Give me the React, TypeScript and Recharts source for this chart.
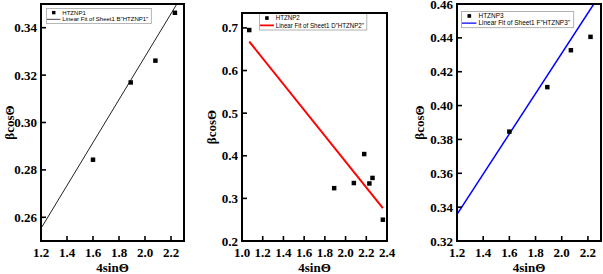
import { ComposedChart, Line, Scatter, XAxis, YAxis, ZAxis, Legend } from "recharts";

// panel 1 - HTZNP1
const p1X = [1.6, 1.89, 2.08, 2.23];
const p1Y = [0.2843, 0.3169, 0.3261, 0.3463];
const p1FitX = [1.2, 2.245];
const p1FitY = [0.2553, 0.35];
const p1XTicks = [1.2, 1.4, 1.6, 1.8, 2.0, 2.2];
const p1YTicks = [0.26, 0.28, 0.3, 0.32, 0.34];

// panel 2 - HTZNP2
const p2X = [1.07, 1.89, 2.08, 2.18, 2.23, 2.26, 2.36];
const p2Y = [0.695, 0.324, 0.336, 0.404, 0.335, 0.348, 0.25];
const p2FitX = [1.07, 2.36];
const p2FitY = [0.668, 0.277];
const p2XTicks = [1.0, 1.2, 1.4, 1.6, 1.8, 2.0, 2.2, 2.4];
const p2YTicks = [0.2, 0.3, 0.4, 0.5, 0.6, 0.7];

// panel 3 - HTZNP3
const p3X = [1.6, 1.89, 2.07, 2.22];
const p3Y = [0.3846, 0.4109, 0.4327, 0.4406];
const p3FitX = [1.2, 2.245];
const p3FitY = [0.3357, 0.46];
const p3XTicks = [1.2, 1.4, 1.6, 1.8, 2.0, 2.2];
const p3YTicks = [0.32, 0.34, 0.36, 0.38, 0.4, 0.42, 0.44, 0.46];

const zip = (xs: number[], ys: number[]) => xs.map((x, i) => ({ x, y: ys[i] }));

const serif = "Liberation Serif";
const sans = "Liberation Sans";
const CH = 274;
const XH = 33;
const X_MARGIN = 6;
const Y_MARGIN = 4;

// tick label plus a short inward tick mark at the axis
const XTick = (p: any) => (
  <g>
    <line x1={p.x} x2={p.x} y1={p.y - X_MARGIN} y2={p.y - X_MARGIN - 5} stroke="#000" strokeWidth={1.6} />
    <text x={p.x} y={p.y} dy="0.75em" textAnchor="middle" fontFamily={serif} fontWeight="bold" fontSize={13} fill="#000">
      {p.fmt(p.payload.value)}
    </text>
  </g>
);

const YTick = (p: any) => (
  <g>
    <line x1={p.x + Y_MARGIN} x2={p.x + Y_MARGIN + 5} y1={p.y} y2={p.y} stroke="#000" strokeWidth={1.6} />
    <text x={p.x} y={p.y} dy="0.35em" textAnchor="end" fontFamily={serif} fontWeight="bold" fontSize={13} fill="#000">
      {p.fmt(p.payload.value)}
    </text>
  </g>
);

const YTitle = (p: any) => {
  const vb = p.viewBox;
  const x = vb.x + p.dx;
  const y = vb.y + vb.height / 2;
  return (
    <text x={x} y={y} transform={`rotate(-90, ${x}, ${y})`} textAnchor="middle" fontFamily={serif} fontWeight="bold" fontSize={13} fill="#000">
      βcosΘ
    </text>
  );
};

interface PanelProps {
  left: number;
  width: number;
  top: number;
  right: number;
  yWidth: number;
  titleDx: number;
  pts: { x: number; y: number }[];
  fit: { x: number; y: number }[];
  xDomain: [number, number];
  yDomain: [number, number];
  xTicks: number[];
  yTicks: number[];
  yFmt: (v: number) => string;
  fitColor: string;
  fitWidth: number;
  name: string;
  fitName: string;
  legendLeft: number;
  legendTop: number;
  legendScale: [number, number];
}

function Panel(props: PanelProps) {
  const xFmt = (v: number) => v.toFixed(1);
  const plotL = props.yWidth;
  const plotW = props.width - props.right - plotL;
  const plotH = CH - XH - props.top;

  const legend = () => (
    <div
      style={{
        border: "1px solid #aaa",
        background: "#fff",
        fontFamily: sans,
        fontSize: 7,
        lineHeight: "7.5px",
        padding: "1px 3px 1px 0px",
        color: "#000",
        whiteSpace: "nowrap",
        transform: `scale(${props.legendScale[0]}, ${props.legendScale[1]})`,
        transformOrigin: "0 0",
      }}
    >
      <div style={{ display: "flex", alignItems: "center", height: 7.5 }}>
        <svg width={16} height={7}>
          <rect x={6} y={1.5} width={4} height={4} fill="#000" />
        </svg>
        <span style={{ marginLeft: 2 }}>{props.name}</span>
      </div>
      <div style={{ display: "flex", alignItems: "center", height: 7.5 }}>
        <svg width={16} height={7}>
          <line x1={0} x2={16} y1={3.5} y2={3.5} stroke={props.fitColor} strokeWidth={props.fitWidth} />
        </svg>
        <span style={{ marginLeft: 2 }}>{props.fitName}</span>
      </div>
    </div>
  );

  return (
    <div style={{ position: "absolute", left: props.left, top: 0, width: props.width, height: CH }}>
      <ComposedChart width={props.width} height={CH} margin={{ top: props.top, right: props.right, bottom: 0, left: 0 }}>
        <XAxis
          type="number"
          dataKey="x"
          domain={props.xDomain}
          ticks={props.xTicks}
          interval={0}
          allowDataOverflow
          height={XH}
          axisLine={{ stroke: "#000", strokeWidth: 2 }}
          tickLine={false}
          tickSize={0}
          tickMargin={X_MARGIN}
          tick={(p: any) => <XTick {...p} fmt={xFmt} />}
          label={{ value: "4sinΘ", position: "insideBottom", offset: 2, fontFamily: serif, fontWeight: "bold", fontSize: 13, fill: "#000" }}
        />
        <YAxis
          type="number"
          dataKey="y"
          domain={props.yDomain}
          ticks={props.yTicks}
          interval={0}
          allowDataOverflow
          width={props.yWidth}
          axisLine={{ stroke: "#000", strokeWidth: 2 }}
          tickLine={false}
          tickSize={0}
          tickMargin={Y_MARGIN}
          tick={(p: any) => <YTick {...p} fmt={props.yFmt} />}
          label={<YTitle dx={props.titleDx} />}
        />
        <ZAxis range={[20, 20]} />
        <Legend
          layout="vertical"
          align="center"
          verticalAlign="middle"
          content={legend}
          wrapperStyle={{ left: props.legendLeft, top: props.legendTop, width: "auto" }}
        />
        <Line
          data={props.fit}
          dataKey="y"
          stroke={props.fitColor}
          strokeWidth={props.fitWidth}
          dot={false}
          isAnimationActive={false}
          legendType="none"
        />
        <Scatter data={props.pts} dataKey="y" fill="#000" shape="square" isAnimationActive={false} legendType="none" />
      </ComposedChart>
      {/* closed frame round the plot area */}
      <div
        style={{
          position: "absolute",
          zIndex: 5,
          left: plotL - 1,
          top: props.top - 1,
          width: plotW + 2,
          height: plotH + 2,
          border: "2px solid #000",
          boxSizing: "border-box",
          pointerEvents: "none",
        }}
      />
    </div>
  );
}

export default function App() {
  return (
    <div style={{ position: "absolute", left: 0, top: 0, width: 603, height: 274, background: "#fff", overflow: "hidden" }}>
      <Panel
        left={0}
        width={200}
        top={4}
        right={16}
        yWidth={41}
        titleDx={14}
        pts={zip(p1X, p1Y)}
        fit={zip(p1FitX, p1FitY)}
        xDomain={[1.2, 2.3]}
        yDomain={[0.25, 0.35]}
        xTicks={p1XTicks}
        yTicks={p1YTicks}
        yFmt={(v) => v.toFixed(2)}
        fitColor="#222"
        fitWidth={1}
        name="HTZNP1"
        fitName={'Linear Fit of Sheet1 B"HTZNP1"'}
        legendLeft={46}
        legendTop={8}
        legendScale={[0.86, 0.84]}
      />
      <Panel
        left={200}
        width={200}
        top={13}
        right={13}
        yWidth={42}
        titleDx={16}
        pts={zip(p2X, p2Y)}
        fit={zip(p2FitX, p2FitY)}
        xDomain={[1.0, 2.4]}
        yDomain={[0.2, 0.735]}
        xTicks={p2XTicks}
        yTicks={p2YTicks}
        yFmt={(v) => v.toFixed(1)}
        fitColor="#ff0000"
        fitWidth={2}
        name="HTZNP2"
        fitName={'Linear Fit of Sheet1 D"HTZNP2"'}
        legendLeft={59}
        legendTop={13}
        legendScale={[0.88, 0.92]}
      />
      <Panel
        left={400}
        width={203}
        top={4}
        right={2}
        yWidth={57}
        titleDx={24}
        pts={zip(p3X, p3Y)}
        fit={zip(p3FitX, p3FitY)}
        xDomain={[1.2, 2.3]}
        yDomain={[0.32, 0.46]}
        xTicks={p3XTicks}
        yTicks={p3YTicks}
        yFmt={(v) => v.toFixed(2)}
        fitColor="#0000ff"
        fitWidth={1.5}
        name="HTZNP3"
        fitName={'Linear Fit of Sheet1 F"HTZNP3"'}
        legendLeft={61}
        legendTop={11}
        legendScale={[0.92, 0.9]}
      />
    </div>
  );
}
